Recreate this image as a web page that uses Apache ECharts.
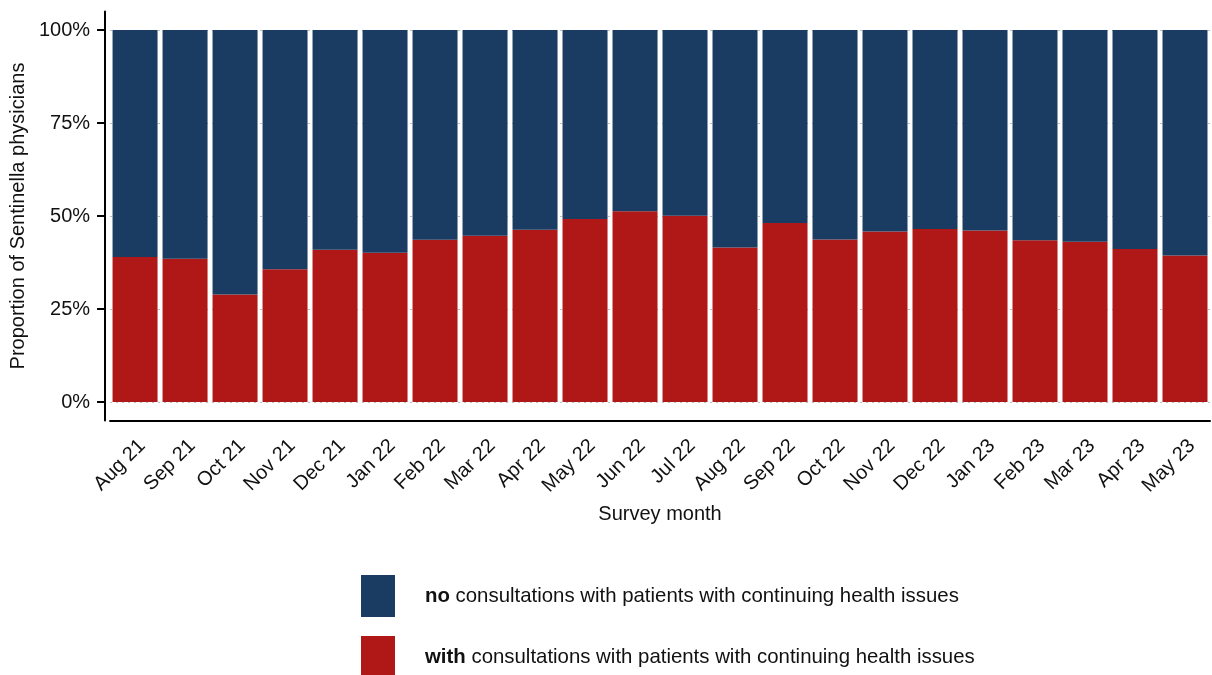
<!DOCTYPE html>
<html>
<head>
<meta charset="utf-8">
<script src="https://cdn.jsdelivr.net/npm/echarts@6/dist/echarts.min.js"></script>
<style>html,body{margin:0;padding:0;background:#fff;}#c{width:1212px;height:675px;}</style>
</head>
<body>
<div id="c"></div>
<script>
const months = ['Aug 21','Sep 21','Oct 21','Nov 21','Dec 21','Jan 22','Feb 22','Mar 22','Apr 22','May 22','Jun 22','Jul 22','Aug 22','Sep 22','Oct 22','Nov 22','Dec 22','Jan 23','Feb 23','Mar 23','Apr 23','May 23'];
const withConsult = [39.0, 38.5, 28.9, 35.7, 40.9, 40.1, 43.6, 44.7, 46.3, 49.2, 51.3, 50.1, 41.5, 48.1, 43.7, 45.8, 46.5, 46.1, 43.5, 43.1, 41.1, 39.4];
const noConsult   = [61.0, 61.5, 71.1, 64.3, 59.1, 59.9, 56.4, 55.3, 53.7, 50.8, 48.7, 49.9, 58.5, 51.9, 56.3, 54.2, 53.5, 53.9, 56.5, 56.9, 58.9, 60.6];
const yTicks = [0, 25, 50, 75, 100];
const nameNo = 'no consultations with patients with continuing health issues';
const nameWith = 'with consultations with patients with continuing health issues';

const chart = echarts.init(document.getElementById('c'), null, {renderer: 'canvas'});
const font = 'Liberation Sans, Arial, sans-serif';
const FS = 20;
const LFS = 20.4;
const legendText = {fontSize: LFS, color: '#111', fontFamily: font, padding: [0, 0, 0, 25],
  rich: {b: {fontWeight: 'bold', fontSize: LFS, color: '#111', fontFamily: font}}};
const legendFmt = n => n.startsWith('no ') ? '{b|no}' + n.slice(2) : '{b|with}' + n.slice(4);
chart.setOption({
  animation: false,
  textStyle: {fontFamily: font},
  grid: {left: 110, right: 2, top: 11.4, bottom: 254.4, containLabel: false},
  xAxis: {
    type: 'category',
    data: months,
    boundaryGap: true,
    axisLine: {onZero: false, lineStyle: {color: '#000', width: 2}},
    axisTick: {alignWithLabel: true, length: 8, lineStyle: {color: '#000', width: 2}},
    axisLabel: {rotate: 45, fontSize: FS, color: '#111', margin: 15, fontFamily: font, interval: 0,
      align: 'right', verticalAlign: 'top'},
    name: 'Survey month',
    nameLocation: 'middle',
    nameGap: 84,
    nameTextStyle: {fontSize: FS, color: '#111', fontFamily: font},
    splitLine: {show: false}
  },
  yAxis: {
    type: 'value',
    min: -5,
    max: 105,
    offset: 5,
    axisLine: {show: true, lineStyle: {color: '#000', width: 2}},
    axisTick: {show: true, length: 8, customValues: yTicks, lineStyle: {color: '#000', width: 2}},
    axisLabel: {customValues: yTicks, formatter: v => v + '%', fontSize: FS, color: '#111', margin: 15, fontFamily: font},
    splitLine: {show: true, lineStyle: {color: '#bdbdbd', type: [2, 4], width: 1}},
    name: 'Proportion of Sentinella physicians',
    nameLocation: 'middle',
    nameGap: 77,
    nameTextStyle: {fontSize: FS, color: '#111', fontFamily: font}
  },
  legend: [
    {orient: 'vertical', left: 356, top: 570, itemWidth: 34, itemHeight: 42, icon: 'rect',
     data: [nameNo], formatter: legendFmt, textStyle: legendText, selectedMode: false},
    {orient: 'vertical', left: 356, top: 631, itemWidth: 34, itemHeight: 42, icon: 'rect',
     data: [nameWith], formatter: legendFmt, textStyle: legendText, selectedMode: false}
  ],
  series: [
    {name: nameWith, type: 'bar', stack: 'a', data: withConsult, barCategoryGap: '10%', itemStyle: {color: '#B01717'}},
    {name: nameNo, type: 'bar', stack: 'a', data: noConsult, barCategoryGap: '10%', itemStyle: {color: '#1A3C62'}}
  ]
});
</script>
</body>
</html>
